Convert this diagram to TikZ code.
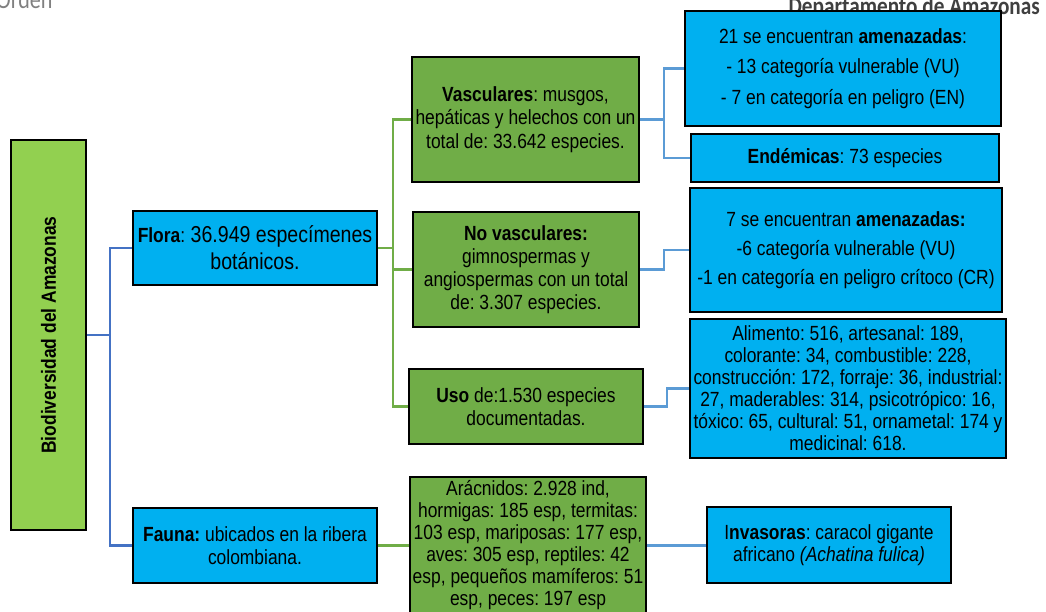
\documentclass[tikz,border=0pt]{standalone}
\usepackage{fontspec}
\setmainfont{Liberation Sans}[FakeStretch=0.85]
\newfontfamily\hdrfont{Carlito}[FakeStretch=0.85]
\definecolor{cblue}{HTML}{00B0F0}
\definecolor{cgreen}{HTML}{70AD47}
\definecolor{clight}{HTML}{92D050}
\definecolor{cdark}{HTML}{4472C4}
\definecolor{cline}{HTML}{5B9BD5}
\frenchspacing
\begin{document}
\begin{tikzpicture}[x=1pt,y=-1pt,
  box/.style={draw=black, line width=2.2pt, align=center, inner sep=0pt, font=\fontsize{20.5}{22.5}\selectfont},
  bluebox/.style={box, fill=cblue},
  greenbox/.style={box, fill=cgreen},
  rootbox/.style={box, fill=clight},
  conndark/.style={draw=cdark, line width=2.2pt},
  conngreen/.style={draw=cgreen, line width=2.2pt},
  connblue/.style={draw=cline, line width=2.2pt},
  hdr/.style={inner sep=0pt}
]
\useasboundingbox (0,0) rectangle (1046,612);
\fill[white] (0,0) rectangle (1046,612);

% header fragments (cut off at the top edge, as in the reference)
\node[hdr, anchor=base west, text=black!50, font=\hdrfont\fontsize{26}{26}\selectfont] (orden) at (-4,9) {Orden};
\node[hdr, anchor=base east, text=black!75, font=\hdrfont\bfseries\fontsize{25}{25}\selectfont] (dept) at (1040,15) {Departamento de Amazonas};

% root
\node[rootbox, minimum width=75, minimum height=390,
  label={[rotate=90, font=\bfseries\fontsize{20.5}{22.5}\selectfont]center:Biodiversidad del Amazonas}] (root) at (48.5,335) {};

% level 1
\node[bluebox, minimum width=244, minimum height=74, font=\fontsize{23}{27}\selectfont] (flora) at (255,248)
  {{\fontsize{20.5}{22.5}\selectfont\textbf{Flora}:} 36.949 especímenes\\botánicos.};
\node[bluebox, minimum width=244, minimum height=75] (fauna) at (255,545.5)
  {\textbf{Fauna:} ubicados en la ribera\\colombiana.};

% level 2
\node[greenbox, minimum width=227, minimum height=125, font=\fontsize{20.5}{23.5}\selectfont] (vasc) at (525.5,119.5)
  {\textbf{Vasculares}: musgos,\\hepáticas y helechos con un\\total de: 33.642 especies.};
\node[greenbox, minimum width=226, minimum height=115, font=\fontsize{20.5}{23}\selectfont] (novasc) at (526,269.5)
  {\textbf{No vasculares:}\\gimnospermas y\\angiospermas con un total\\de: 3.307 especies.};
\node[greenbox, minimum width=234, minimum height=75] (uso) at (526,406.5)
  {\textbf{Uso} de:1.530 especies\\documentadas.};
\node[greenbox, minimum width=236, minimum height=137, font=\fontsize{20.5}{22}\selectfont] (animals) at (528,545.5)
  {Arácnidos: 2.928 ind,\\hormigas: 185 esp, termitas:\\103 esp, mariposas: 177 esp,\\aves: 305 esp, reptiles: 42\\esp, pequeños mamíferos: 51\\esp, peces: 197 esp};

% level 3
\node[bluebox, minimum width=316, minimum height=115] (amen1) at (843,68.5)
  {21 se encuentran \textbf{amenazadas}:\\[8pt]- 13 categoría vulnerable (VU)\\[8pt]- 7 en categoría en peligro (EN)};
\node[bluebox, minimum width=308, minimum height=48] (endem) at (845,158)
  {\textbf{Endémicas}: 73 especies};
\node[bluebox, minimum width=312, minimum height=124] (amen2) at (846,250)
  {7 se encuentran \textbf{amenazadas:}\\[7pt]-6 categoría vulnerable (VU)\\[6pt]-1 en categoría en peligro crítoco (CR)};
\node[bluebox, minimum width=316, minimum height=139, font=\fontsize{20.5}{22}\selectfont] (usos) at (848,388.5)
  {Alimento: 516, artesanal: 189,\\colorante: 34, combustible: 228,\\construcción: 172, forraje: 36, industrial:\\27, maderables: 314, psicotrópico: 16,\\tóxico: 65, cultural: 51, ornametal: 174 y\\medicinal: 618.};
\node[bluebox, minimum width=244, minimum height=76, font=\fontsize{20.5}{22}\selectfont] (invas) at (829,545)
  {I\textbf{nvasoras}: caracol gigante\\africano \textit{(Achatina fulica)}};

% connectors
\coordinate (rj) at (110,335);
\draw[conndark] (root.east) -- (rj) |- (flora.west);
\draw[conndark] (rj) |- (fauna.west);

\coordinate (fj) at (393,248);
\draw[conngreen] (flora.east) -- (fj) |- (vasc.west);
\draw[conngreen] (fj) |- (novasc.west);
\draw[conngreen] (fj) |- (uso.west);
\draw[conngreen] (fauna.east) -- (animals.west);

\coordinate (vj) at (664,119.5);
\draw[connblue] (vasc.east) -- (vj) |- (amen1.west);
\draw[connblue] (vj) |- (endem.west);
\coordinate (nj) at (664,269.5);
\draw[connblue] (novasc.east) -- (nj) |- (amen2.west);
\coordinate (uj) at (667,406.5);
\draw[connblue] (uso.east) -- (uj) |- (usos.west);
\draw[connblue] (animals.east) -- (animals.east -| invas.west);
\end{tikzpicture}
\end{document}
